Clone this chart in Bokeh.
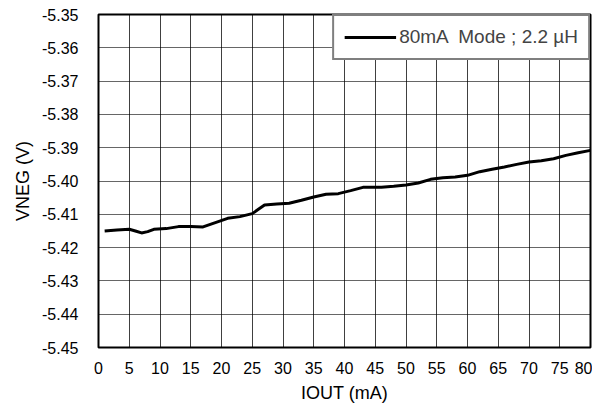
from bokeh.plotting import figure
from bokeh.models import Range1d, FixedTicker, Legend, LegendItem, CustomJSTickFormatter
from bokeh.embed import file_html
from bokeh.resources import INLINE

iout = [1, 3, 5, 6, 7, 8, 9, 11, 13, 15, 17, 19, 21, 23, 25, 26, 27, 29, 31, 33, 35, 37, 39,
        41, 43, 46, 48, 50, 52, 54, 56, 58, 60, 62, 64, 66, 68, 70, 72, 74, 76, 78, 80]
vneg = [-5.4150, -5.4147, -5.4145, -5.4150, -5.4156, -5.4152, -5.4145, -5.4143, -5.4137,
        -5.4137, -5.4138, -5.4125, -5.4112, -5.4107, -5.4098, -5.4085, -5.4072, -5.4069,
        -5.4067, -5.4058, -5.4048, -5.4040, -5.4038, -5.4029, -5.4019, -5.4019, -5.4016,
        -5.4012, -5.4006, -5.3995, -5.3990, -5.3988, -5.3983, -5.3972, -5.3965, -5.3958,
        -5.3950, -5.3943, -5.3939, -5.3933, -5.3923, -5.3915, -5.3908]
x_ticks = list(range(0, 81, 5))
y_ticks = [-5.45, -5.44, -5.43, -5.42, -5.41, -5.40, -5.39, -5.38, -5.37, -5.36, -5.35]
series_label = "80mA  Mode ; 2.2 µH"

FONT = "Liberation Sans"

p = figure(width=592, height=405, output_backend="svg", toolbar_location=None,
           x_range=Range1d(0, 80), y_range=Range1d(-5.45, -5.35),
           min_border_left=98, min_border_right=2, min_border_top=14, min_border_bottom=56)

r = p.line(iout, vneg, line_color="black", line_width=3)

p.outline_line_color = "black"
p.outline_line_width = 2
p.background_fill_color = "white"
p.border_fill_color = "white"

for ax in (p.xaxis[0], p.yaxis[0]):
    ax.axis_line_color = None
    ax.major_tick_line_color = None
    ax.minor_tick_line_color = None
    ax.major_label_text_font = FONT
    ax.major_label_text_font_size = "16px"
    ax.major_label_text_color = "black"
    ax.axis_label_text_font = FONT
    ax.axis_label_text_font_size = "18px"
    ax.axis_label_text_font_style = "normal"
    ax.axis_label_text_color = "black"

p.xaxis[0].ticker = FixedTicker(ticks=x_ticks)
p.yaxis[0].ticker = FixedTicker(ticks=y_ticks)
p.yaxis[0].formatter = CustomJSTickFormatter(code="return tick.toFixed(2);")
p.xaxis[0].axis_label = "IOUT (mA)"
p.yaxis[0].axis_label = "VNEG (V)"
p.xaxis[0].major_label_standoff = 8
p.yaxis[0].major_label_standoff = 14
p.xaxis[0].axis_label_standoff = 6
p.yaxis[0].axis_label_standoff = 6

p.xgrid.grid_line_color = "black"
p.xgrid.grid_line_alpha = 0.75
p.xgrid.grid_line_width = 1
p.ygrid.grid_line_color = "black"
p.ygrid.grid_line_alpha = 0.6
p.ygrid.grid_line_width = 1

legend = Legend(items=[LegendItem(label=series_label, renderers=[r])],
                location="top_right", margin=0, padding=10, spacing=0,
                glyph_width=52, glyph_height=20, label_standoff=3,
                label_text_font=FONT, label_text_font_size="19px",
                border_line_color="black", border_line_width=2,
                background_fill_color="white", background_fill_alpha=1.0)
p.add_layout(legend)

open("out.html", "w").write(file_html(p, INLINE))
